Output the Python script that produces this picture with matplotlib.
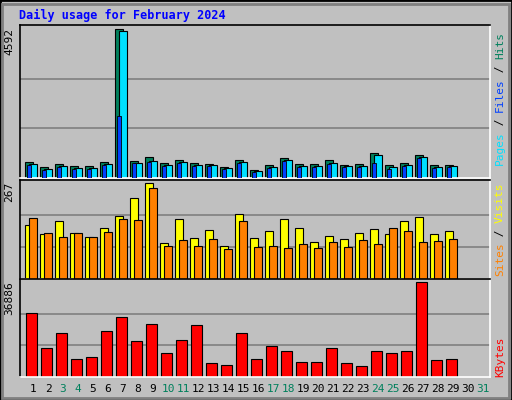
import matplotlib
matplotlib.use('Agg')
import matplotlib.pyplot as plt
from matplotlib.patches import Rectangle
import numpy as np

days = list(range(1, 32))
weekend = [3, 4, 10, 11, 17, 18, 24, 25, 31]

hits = [490, 335, 430, 365, 365, 490, 4592, 520, 645, 460, 550, 460, 430, 335, 550, 240, 395, 615, 430, 430, 550, 395, 430, 770, 395, 460, 710, 395, 395]
files = [425, 270, 365, 300, 300, 425, 4530, 460, 520, 395, 490, 395, 395, 300, 490, 210, 335, 550, 365, 365, 460, 365, 365, 710, 335, 395, 645, 335, 365]
pages = [400, 250, 340, 280, 280, 400, 1920, 450, 500, 370, 470, 370, 370, 280, 460, 190, 310, 520, 340, 340, 440, 340, 340, 450, 280, 370, 610, 310, 340]
visits = [150, 125, 162, 128, 116, 143, 175, 224, 267, 99, 166, 114, 137, 93, 181, 114, 134, 166, 143, 104, 119, 111, 128, 140, 125, 160, 172, 125, 134]
sites = [170, 128, 116, 128, 116, 131, 166, 163, 252, 91, 108, 91, 111, 82, 160, 88, 91, 85, 97, 85, 102, 88, 108, 97, 143, 134, 102, 105, 111]
kbytes = [24800, 11100, 17200, 7100, 7900, 18000, 23200, 14000, 20400, 9400, 14400, 20000, 5400, 4600, 17200, 6800, 12000, 10100, 5700, 5700, 11100, 5400, 4200, 10100, 9400, 10100, 36886, 6500, 7100]

bg = '#C0C0C0'
fig = plt.figure(figsize=(5.12, 4.0), dpi=100, facecolor=bg)
# outer frame
fig.patches.append(Rectangle((0, 0), 1, 1, transform=fig.transFigure, fill=False, ec='black', lw=2))
fig.patches.append(Rectangle((0.004, 0.006), 0.99, 0.985, transform=fig.transFigure, fill=False, ec='#808080', lw=2))

W, H = 512, 400
def ax_at(top, bottom):
    return fig.add_axes([20 / W, 1 - bottom / H, 470 / W, (bottom - top) / H])

mono = 'DejaVu Sans Mono'
d = np.array(days[:len(hits)])

def style(ax, ymax, label):
    ax.set_facecolor(bg)
    ax.set_xlim(0.133, 31.47)
    ax.set_ylim(0, ymax)
    for f in (1 / 3, 2 / 3):
        ax.axhline(ymax / 1.03 * f, color='#808080', lw=1.2, zorder=0)
    ax.set_xticks([])
    ax.set_yticks([])
    for s in ('left', 'top'):
        ax.spines[s].set_color('black')
    for s in ('right', 'bottom'):
        ax.spines[s].set_color('white')
    for s in ax.spines.values():
        s.set_linewidth(1.2)
    ax.text(-0.012, 0.98, label, transform=ax.transAxes, rotation=90, ha='right', va='top',
            fontsize=8, family=mono)

ax1 = ax_at(24.7, 178)
style(ax1, max(hits) * 1.03, str(max(hits)))
ax1.bar(d - 0.265, hits, width=0.53, color='#00805C', ec='black', lw=0.8, zorder=2)
ax1.bar(d - 0.27, pages, width=0.22, color='#0040FF', ec='black', lw=0.6, zorder=3)
ax1.bar(d - 0.01, files, width=0.52, color='#00E0FF', ec='black', lw=0.8, zorder=2.5)

ax2 = ax_at(180, 279)
style(ax2, max(visits) * 1.03, str(max(visits)))
ax2.bar(d - 0.265, visits, width=0.53, color='#FFFF00', ec='black', lw=0.8, zorder=2)
ax2.bar(d - 0.01, sites, width=0.52, color='#FF8000', ec='black', lw=0.8, zorder=3)

ax3 = ax_at(279, 377)
style(ax3, max(kbytes) * 1.03, str(max(kbytes)))
ax3.bar(d - 0.11, kbytes, width=0.72, color='#FF0000', ec='black', lw=0.8, zorder=2)

for day in days:
    fig.text((33 + (day - 1) * 15) / W, 1 - 389 / H, str(day), ha='center', va='center',
             fontsize=8, family=mono, color='#00805C' if day in weekend else 'black')

fig.text(19 / W, 1 - 15 / H, 'Daily usage for February 2024', fontsize=8.5, family=mono,
         weight='bold', color='#0000FF', va='center')

def right_label(y_bottom, parts):
    y = y_bottom
    for txt, col in parts:
        t = fig.text(500 / W, 1 - y / H, txt, rotation=90, ha='center', va='bottom',
                     fontsize=8, family=mono, color=col)
        y -= len(txt) * 6.6

right_label(165, [('Pages', '#00E0FF'), (' / ', '#000000'), ('Files', '#0040FF'), (' / ', '#000000'), ('Hits', '#00805C')])
right_label(276, [('Sites', '#FF8000'), (' / ', '#000000'), ('Visits', '#FFFF00')])
right_label(377, [('KBytes', '#FF0000')])

fig.savefig('out.png', dpi=100, facecolor=bg)
